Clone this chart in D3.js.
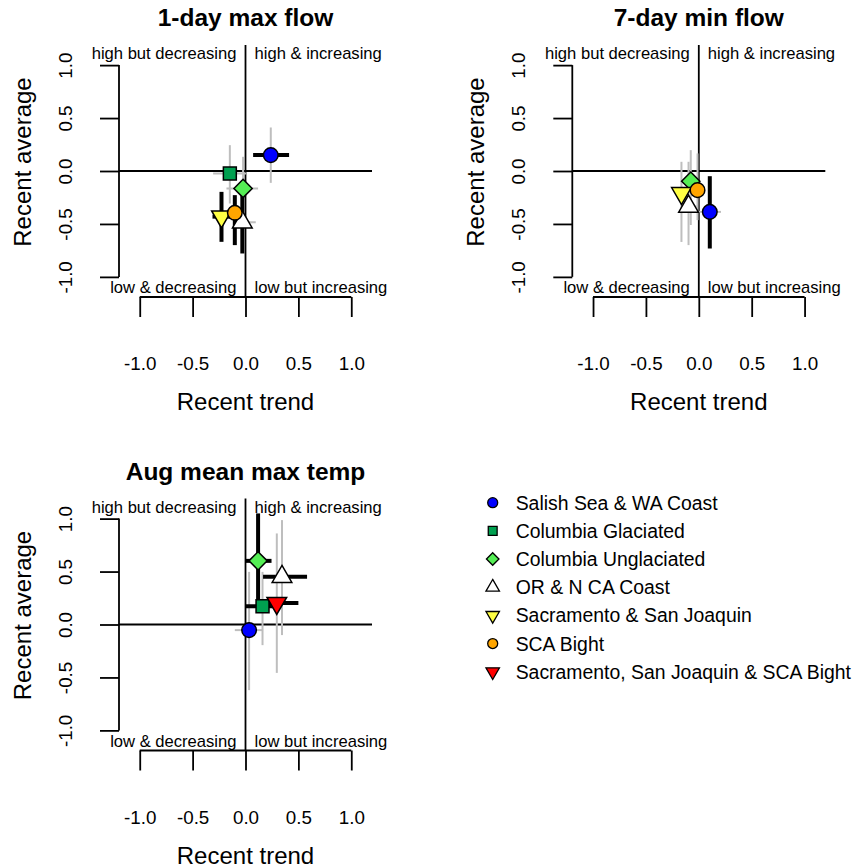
<!DOCTYPE html>
<html>
<head>
<meta charset="utf-8">
<script src="https://cdn.jsdelivr.net/npm/d3@7"></script>
<style>
  body { margin: 0; background: #fff; }
  text { font-family: Arial, "Liberation Sans", sans-serif; fill: #000; }
</style>
</head>
<body>
<div id="chart"></div>
<script>
const regions = ["Salish Sea & WA Coast", "Columbia Glaciated", "Columbia Unglaciated",
                 "OR & N CA Coast", "Sacramento & San Joaquin", "SCA Bight",
                 "Sacramento, San Joaquin & SCA Bight"];
const regionFill = ["#0000ff", "#00a050", "#55ee55", "#ffffff", "#ffff44", "#ffa500", "#ff0000"];
const regionShape = ["circle", "square", "diamond", "triUp", "triDown", "circle", "triDown"];

const axisTicks = [-1, -0.5, 0, 0.5, 1];

// r = region index, trend/avg = [low, value, high], sig = drawn as a black bar
const maxFlow = [
  { r: 0, trend: [0.072, 0.239, 0.412], tSig: true,  avg: [-0.112, 0.150, 0.411], aSig: false },
  { r: 1, trend: [-0.306, -0.148, 0.005], tSig: false, avg: [-0.307, -0.023, 0.244], aSig: false },
  { r: 2, trend: [-0.18, -0.023, 0.119], tSig: false, avg: [-0.464, -0.165, 0.134], aSig: false },
  { r: 3, trend: [-0.117, -0.030, 0.097], tSig: false, avg: [-0.779, -0.484, -0.228], aSig: true },
  { r: 4, trend: [-0.312, -0.227, -0.142], tSig: true, avg: [-0.669, -0.431, -0.197], aSig: true },
  { r: 5, trend: [-0.16, -0.101, -0.04], tSig: false, avg: [-0.70, -0.395, -0.228], aSig: true }
];

const minFlow = [
  { r: 0, trend: [0.0, 0.104, 0.21], tSig: false, avg: [-0.732, -0.386, -0.049], aSig: true },
  { r: 2, trend: [-0.14, -0.076, -0.01], tSig: false, avg: [-0.51, -0.096, 0.197], aSig: false },
  { r: 3, trend: [-0.17, -0.097, -0.02], tSig: false, avg: [-0.70, -0.335, 0.087], aSig: false },
  { r: 4, trend: [-0.20, -0.164, -0.13], tSig: false, avg: [-0.67, -0.21, 0.087], aSig: false },
  { r: 5, trend: [-0.05, -0.012, 0.03], tSig: false, avg: [-0.464, -0.181, 0.166], aSig: false }
];

const augTemp = [
  { r: 0, trend: [-0.101, 0.034, 0.166], tSig: false, avg: [-0.62, -0.053, 0.497], aSig: false },
  { r: 1, trend: [0.003, 0.161, 0.32], tSig: true,  avg: [-0.195, 0.173, 0.497], aSig: false },
  { r: 2, trend: [0.003, 0.119, 0.246], tSig: true,  avg: [0.199, 0.601, 1.049], aSig: true },
  { r: 3, trend: [0.166, 0.345, 0.582], tSig: true,  avg: [-0.1, 0.451, 0.986], aSig: false },
  { r: 6, trend: [0.12, 0.296, 0.50], tSig: true,  avg: [-0.457, 0.202, 0.86], aSig: false }
];

const panels = [
  { title: "1-day max flow", data: maxFlow, xr: [119, 372], yr: [297, 45] },
  { title: "7-day min flow", data: minFlow, xr: [572.3, 825.3], yr: [297, 45] },
  { title: "Aug mean max temp", data: augTemp, xr: [119, 372], yr: [750.5, 498.5] }
];

const W = 855, H = 868;
const svg = d3.select("#chart").append("svg")
  .attr("width", W).attr("height", H);

function shapePath(shape, R) {
  if (shape === "circle") return `M${R},0A${R},${R} 0 1,1 ${-R},0A${R},${R} 0 1,1 ${R},0Z`;
  if (shape === "square") { const s = R * 0.886; return `M${-s},${-s}H${s}V${s}H${-s}Z`; }
  if (shape === "diamond") { const d = R * 1.253; return `M0,${-d}L${d},0L0,${d}L${-d},0Z`; }
  const r = R * 1.555, xc = R * 1.347, yc = R * 0.778;
  if (shape === "triUp") return `M0,${-r}L${xc},${yc}L${-xc},${yc}Z`;
  return `M0,${r}L${xc},${-yc}L${-xc},${-yc}Z`;
}

panels.forEach(p => {
  const x = d3.scaleLinear().domain([-1.196, 1.196]).range(p.xr);
  const y = d3.scaleLinear().domain([-1.19, 1.19]).range(p.yr);
  const g = svg.append("g");
  const top = p.yr[1], bottom = p.yr[0], left = p.xr[0];

  // zero lines
  g.append("line").attr("x1", p.xr[0]).attr("x2", p.xr[1])
    .attr("y1", y(0)).attr("y2", y(0)).attr("stroke", "#000").attr("stroke-width", 1.8);
  g.append("line").attr("x1", x(0)).attr("x2", x(0))
    .attr("y1", top).attr("y2", bottom).attr("stroke", "#000").attr("stroke-width", 1.8);

  // x axis
  const xa = g.append("g").attr("transform", `translate(0,${bottom})`)
    .call(d3.axisBottom(x).tickValues(axisTicks).tickSize(20).tickFormat(d => d.toFixed(1)));
  xa.select(".domain").remove();
  xa.append("line").attr("x1", x(-1)).attr("x2", x(1)).attr("stroke", "#000").attr("stroke-width", 1.8);
  xa.selectAll(".tick line").attr("stroke", "#000").attr("stroke-width", 1.8);
  xa.attr("font-family", null).attr("font-size", null);
  xa.selectAll(".tick text").attr("y", 73).attr("dy", 0)
    .style("font-size", "18.8px").attr("fill", "#000");

  // y axis
  const ya = g.append("g").attr("transform", `translate(${left},0)`)
    .call(d3.axisLeft(y).tickValues(axisTicks).tickSize(19).tickFormat(d => d.toFixed(1)));
  ya.select(".domain").remove();
  ya.append("line").attr("y1", y(-1)).attr("y2", y(1)).attr("stroke", "#000").attr("stroke-width", 1.8);
  ya.selectAll(".tick line").attr("stroke", "#000").attr("stroke-width", 1.8);
  ya.attr("font-family", null).attr("font-size", null);
  ya.selectAll(".tick text").attr("x", 0).attr("dy", 0)
    .attr("text-anchor", "middle")
    .attr("transform", "translate(-47.3,0) rotate(-90)")
    .style("font-size", "18.8px").attr("fill", "#000");

  // titles
  g.append("text").attr("x", x(0)).attr("y", top - 19)
    .attr("text-anchor", "middle").style("font-size", "24.5px").style("font-weight", "bold")
    .text(p.title);
  g.append("text").attr("x", x(0)).attr("y", bottom + 113)
    .attr("text-anchor", "middle").style("font-size", "24px").text("Recent trend");
  g.append("text")
    .attr("transform", `translate(${left - 88},${y(0) - 9}) rotate(-90)`)
    .attr("text-anchor", "middle").style("font-size", "24px").text("Recent average");

  // quadrant labels
  const q = [
    ["high but decreasing", "end", -9, top + 14],
    ["high & increasing", "start", 9, top + 14],
    ["low & decreasing", "end", -9, bottom - 4],
    ["low but increasing", "start", 9, bottom - 4]
  ];
  g.selectAll(".quad").data(q).enter().append("text")
    .attr("x", d => x(0) + d[2]).attr("y", d => d[3])
    .attr("text-anchor", d => d[1]).style("font-size", "16.6px")
    .text(d => d[0]);

  // error bars
  const bars = g.append("g");
  p.data.forEach(d => {
    bars.append("line")
      .attr("x1", x(d.trend[0])).attr("x2", x(d.trend[2]))
      .attr("y1", y(d.avg[1])).attr("y2", y(d.avg[1]))
      .attr("stroke", d.tSig ? "#000" : "#bebebe").attr("stroke-width", d.tSig ? 4 : 2);
    bars.append("line")
      .attr("x1", x(d.trend[1])).attr("x2", x(d.trend[1]))
      .attr("y1", y(d.avg[0])).attr("y2", y(d.avg[2]))
      .attr("stroke", d.aSig ? "#000" : "#bebebe").attr("stroke-width", d.aSig ? 4 : 2);
  });

  // points
  g.append("g").selectAll("path").data(p.data).enter().append("path")
    .attr("transform", d => `translate(${x(d.trend[1])},${y(d.avg[1])})`)
    .attr("d", d => shapePath(regionShape[d.r], 7.3))
    .attr("fill", d => regionFill[d.r])
    .attr("stroke", "#000").attr("stroke-width", 1.5);
});

// legend
const ly = d3.scalePoint().domain(regions).range([502.7, 671.7]);
const leg = svg.append("g");
regions.forEach((name, i) => {
  leg.append("path")
    .attr("transform", `translate(492.7,${ly(name)})`)
    .attr("d", shapePath(regionShape[i], 5))
    .attr("fill", regionFill[i]).attr("stroke", "#000").attr("stroke-width", 1.3);
  leg.append("text").attr("x", 515.7).attr("y", ly(name)).attr("dy", "0.36em")
    .style("font-size", "19.4px").text(name);
});
</script>
</body>
</html>
